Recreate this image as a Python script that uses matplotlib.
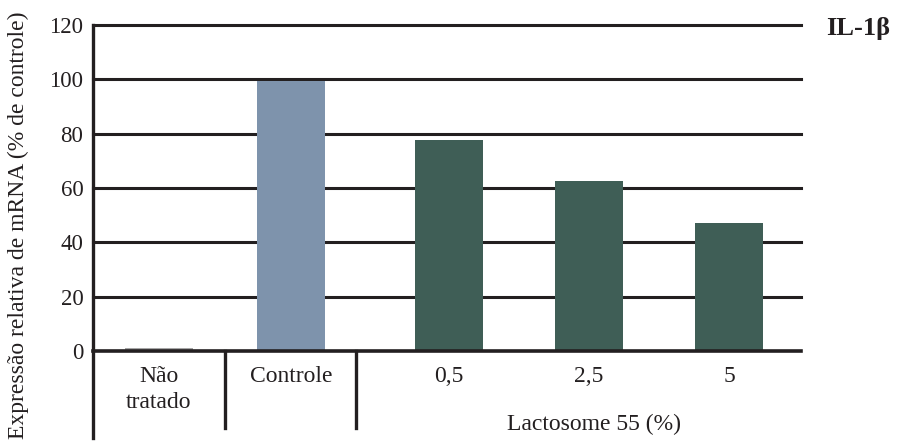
import matplotlib
matplotlib.use("Agg")
import matplotlib.pyplot as plt

# data
categories = ["Não\ntratado", "Controle", "0,5", "2,5", "5"]
values = [1.0, 99.5, 77.5, 62.5, 47.0]
colors = ["#a6a6a6", "#7e93ac", "#3f5e56", "#3f5e56", "#3f5e56"]
yticks = [0, 20, 40, 60, 80, 100, 120]
group_label = "Lactosome 55 (%)"
ylabel = "Expressão relativa de mRNA (% de controle)"
title = "IL-1β"

# layout (x units ~ pixels inside the axes)
positions = [66, 198, 356, 496, 636]
bar_width = 68
separators = [132, 263]
line_col = "#231f20"

plt.rcParams['font.family'] = ['Liberation Serif', 'DejaVu Serif']

fig = plt.figure(figsize=(8.98, 4.43), dpi=100)
ax = fig.add_axes([93 / 898, 92 / 443, 708 / 898, 326 / 443])
ax.set_xlim(0, 708)
ax.set_ylim(0, 120)

# horizontal lines behind bars
for t in yticks[1:]:
    ax.axhline(t, color=line_col, lw=2.2, zorder=1, clip_on=False)

ax.bar(positions, values, width=bar_width, color=colors, zorder=2)

for s in ax.spines.values():
    s.set_visible(False)
ax.axhline(0, color=line_col, lw=2.6, zorder=3, clip_on=False)

# left axis continues down below the zero line
ax.plot([0, 0], [-32, 120], color=line_col, lw=2.4, clip_on=False, zorder=3)
for sx in separators:
    ax.plot([sx, sx], [0, -28.5], color=line_col, lw=2.4, clip_on=False, zorder=3)

ax.set_xticks([])
ax.set_yticks(yticks)
ax.tick_params(axis='y', length=0, pad=7, labelsize=16.5, labelcolor=line_col)

for x, lab in zip(positions, categories):
    ax.text(x, -5.5, lab, ha='center', va='top', fontsize=17, color=line_col,
            linespacing=1.3)
ax.text(594 - 93, -23, group_label, ha='center', va='top', fontsize=17,
        color=line_col)

fig.text(18 / 898, 1 - 225 / 443, ylabel, rotation=90, ha='center', va='center',
         fontsize=17, color=line_col)
fig.text(858 / 898, 1 - 29 / 443, title, ha='center', va='center',
         fontsize=19, fontweight='bold', color=line_col)

fig.savefig("out.png", dpi=100)
